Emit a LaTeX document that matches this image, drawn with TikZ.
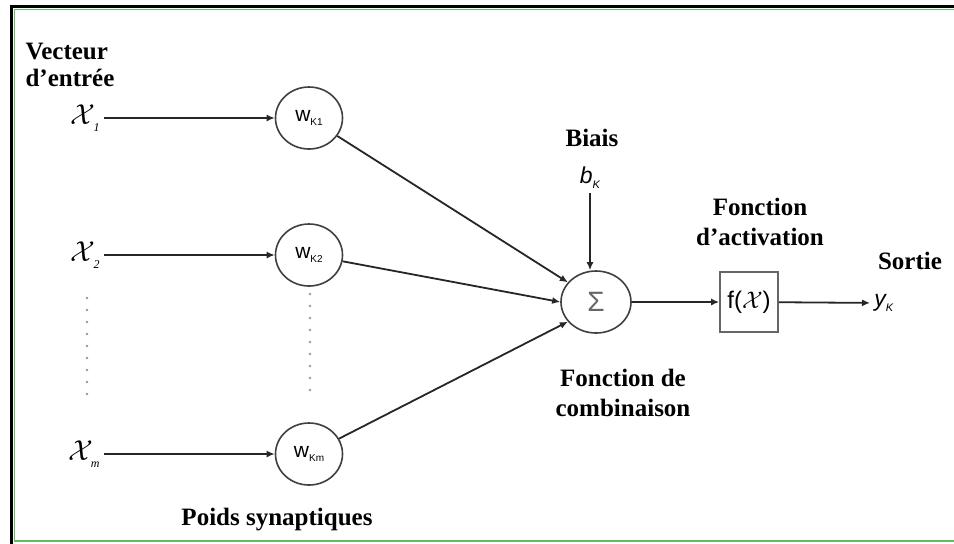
\documentclass[tikz,border=0pt]{standalone}
\usepackage{fontspec}
\setmainfont{Liberation Serif}
\newfontfamily\arialf{Liberation Sans}
\usepackage{tikz}
\usetikzlibrary{arrows.meta}
\usetikzlibrary{shapes.geometric}
\usetikzlibrary{calc}

\newcommand{\wlab}[1]{{\arialf\fontsize{10.5}{12}\selectfont w\raisebox{-0.3ex}{\fontsize{5}{6}\selectfont #1}}}
\newcommand{\xlab}[1]{{\fontsize{14}{16}\selectfont$\mathcal{X}$}\kern-1pt\raisebox{-0.7ex}{\fontsize{6}{7}\selectfont\itshape #1}}
\newcommand{\klab}[1]{{\arialf\itshape\fontsize{11.5}{13}\selectfont #1\raisebox{-0.4ex}{\fontsize{5.5}{7}\selectfont K}}}

\begin{document}
\begin{tikzpicture}[x=0.5pt,y=-0.5pt,
	titre/.style={font=\bfseries\fontsize{12.5}{15}\selectfont,align=center,inner sep=0pt},
	poids/.style={ellipse,draw=black!75,line width=0.8pt,minimum width=33.5pt,minimum height=31pt,inner sep=0pt},
	fleche/.style={-{Latex[length=4pt,width=3.5pt]},line width=0.9pt,draw=black!85},
	points/.style={line cap=round,dash pattern=on 0pt off 6pt,line width=1.4pt,draw=black!40}]
	\useasboundingbox (0,0) rectangle (954,543);
	\clip (0,0) rectangle (954,543);
	\fill[white] (0,0) rectangle (954,543);
	\draw[line width=1.5pt] (960,6.5) -- (11.5,6.5) -- (11.5,550);
	\draw[green!55!black!60,line width=0.7pt] (960,9.5) -- (14.5,9.5) -- (14.5,541) -- (960,541);
	
	\node[titre,align=left,font=\bfseries\fontsize{12.5}{13.5}\selectfont] (vecteur) at (70,65) {Vecteur\\d’entrée};
	
	\node[anchor=east,inner sep=2pt] (x1) at (104,118) {\xlab{1}};
	\node[anchor=east,inner sep=2pt] (x2) at (104,255) {\xlab{2}};
	\node[anchor=east,inner sep=2pt] (xm) at (104,454) {\xlab{m}};
	
	\node[poids] (w1) at (309,118) {\wlab{K1}};
	\node[poids] (w2) at (309,255) {\wlab{K2}};
	\node[poids] (wm) at (309,454) {\wlab{Km}};
	
	\draw[points] (87,298) -- (87,398);
	\draw[points] (310,294) -- (310,400);
	
	\node[poids,minimum width=35pt] (somme) at (596,302) {\arialf\fontsize{14}{16}\selectfont\color{black!60}Σ};
	\node[draw=black!60,line width=0.8pt,minimum width=29pt,minimum height=30pt,inner sep=0pt] (activ) at (749,302) {{\arialf\fontsize{12}{14}\selectfont f(}{\fontsize{13}{14}\selectfont$\mathcal{X}$}{\arialf\fontsize{12}{14}\selectfont )}};
	\node[anchor=west,inner sep=2pt] (y) at (870,303) {\klab{y}};
	
	\node[titre] (biais) at (592,138) {Biais};
	\node[inner sep=2pt] (b) at (590,178) {\klab{b}};
	\node[titre] (activation) at (760,222) {Fonction\\d’activation};
	\node[titre] (sortie) at (910,261) {Sortie};
	\node[titre] (combinaison) at (623,393) {Fonction de\\combinaison};
	\node[titre] (poids syn) at (277,520) {Poids synaptiques};
	
	\draw[fleche] (x1.east) -- (w1.west);
	\draw[fleche] (x2.east) -- (w2.west);
	\draw[fleche] (xm.east) -- (wm.west);
	\draw[fleche] (w1) -- (somme.145);
	\draw[fleche] (w2) -- (somme.west);
	\draw[fleche] (wm) -- (somme.215);
	\draw[fleche] (b) -- (b |- somme.north);
	\draw[fleche] (somme) -- (activ);
	\draw[fleche] (activ) -- (y);
	
\end{tikzpicture}
\end{document}
